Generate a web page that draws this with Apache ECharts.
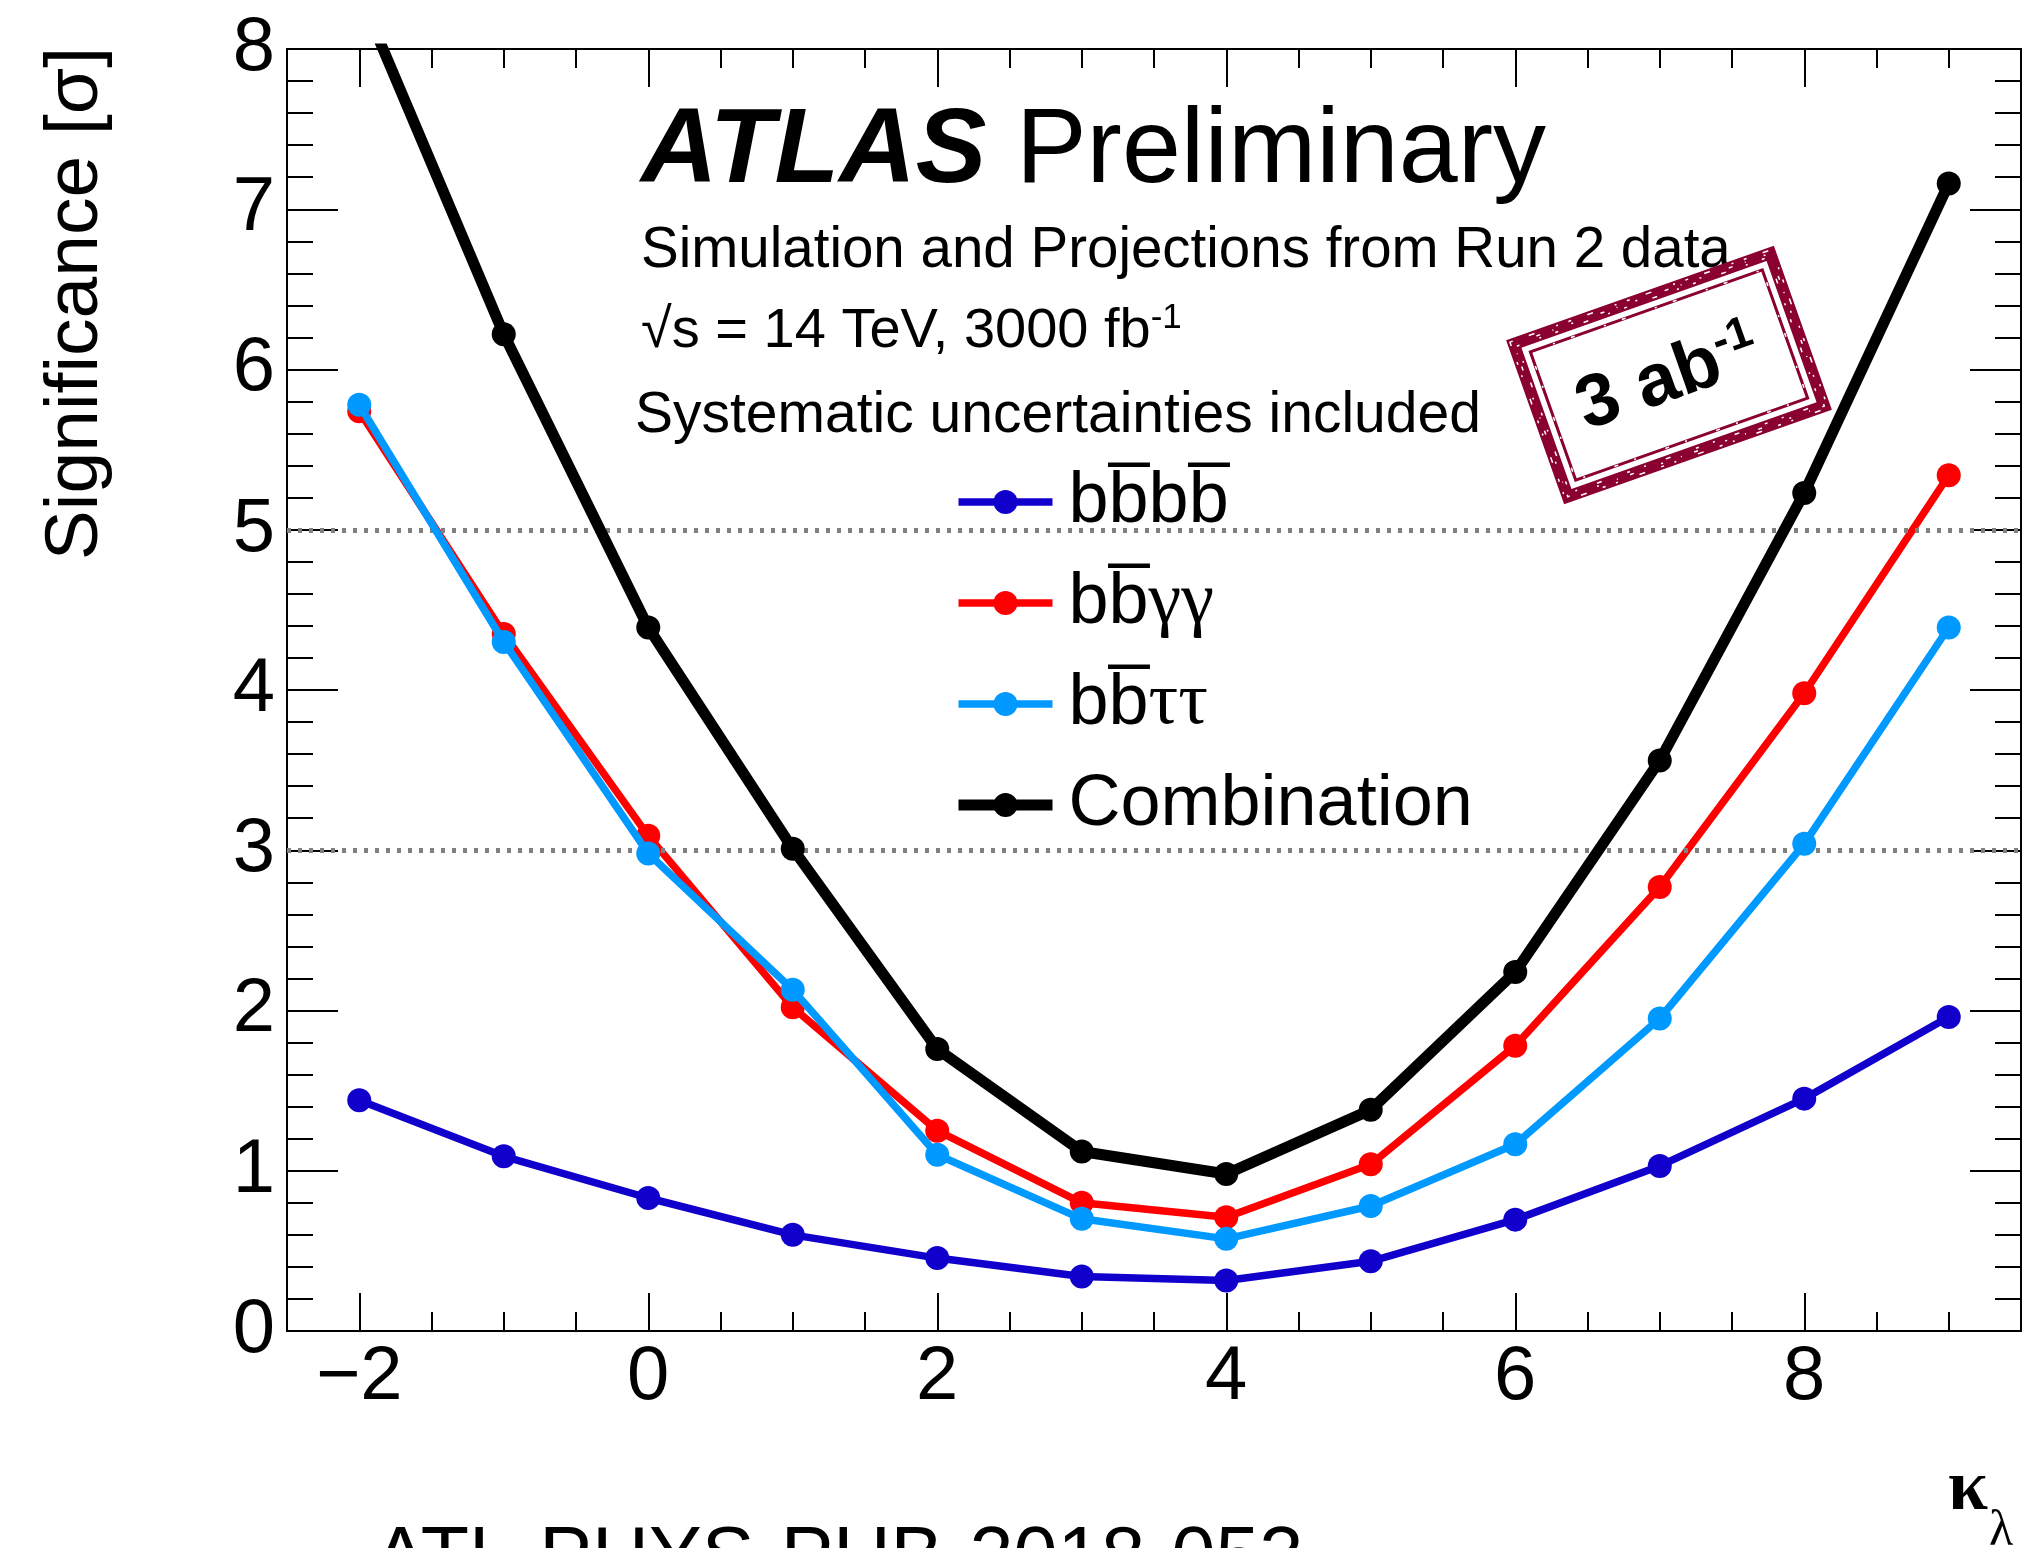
<!DOCTYPE html>
<html>
<head>
<meta charset="utf-8">
<script src="https://cdn.jsdelivr.net/npm/echarts@6/dist/echarts.min.js"></script>
<style>
  html, body { margin: 0; padding: 0; background: #ffffff; }
  #chart { width: 2023px; height: 1548px; }
</style>
</head>
<body>
<div id="chart"></div>
<script>
// kappa_lambda scan points
const kappa = [-2, -1, 0, 1, 2, 3, 4, 5, 6, 7, 8, 9];
// expected significance per channel
const sig4b   = [1.44, 1.09, 0.83, 0.60, 0.455, 0.34, 0.315, 0.435, 0.695, 1.03, 1.45, 1.96];
const sigBBYY = [5.74, 4.35, 3.09, 2.02, 1.25, 0.80, 0.71, 1.04, 1.78, 2.77, 3.98, 5.34];
const sigBBTT = [5.78, 4.30, 2.98, 2.13, 1.10, 0.70, 0.575, 0.78, 1.165, 1.95, 3.04, 4.39];
const sigComb = [8.35, 6.22, 4.39, 3.01, 1.76, 1.12, 0.98, 1.38, 2.24, 3.56, 5.23, 7.16];
// channel labels (with overbars on anti-b)
const channelNames = ['bb\u0305bb\u0305', 'bb\u0305\u03b3\u03b3', 'bb\u0305\u03c4\u03c4', 'Combination'];
// axis ticks
const xMajorTicks = [-2, 0, 2, 4, 6, 8];
const xMinorTicks = [-1.5, -1, -0.5, 0.5, 1, 1.5, 2.5, 3, 3.5, 4.5, 5, 5.5, 6.5, 7, 7.5, 8.5, 9];
// 3 sigma and 5 sigma reference levels
const refLevels = [3, 5];

const FONT = 'Liberation Sans, Arial, Helvetica, sans-serif';
const SERIF = 'Liberation Serif, Times New Roman, serif';
const colors = ['#1100cc', '#ff0000', '#0099ff', '#000000'];
const widths = [7.5, 7.5, 7.5, 11];
const values = [sig4b, sigBBYY, sigBBTT, sigComb];

const gridRect = { left: 287, top: 49, right: 2, bottom: 217 };
const axisLineStyle = { color: '#000', width: 2 };
const STAMP = '#8a0030';

const chart = echarts.init(document.getElementById('chart'), null, { renderer: 'canvas' });

const series = channelNames.map((name, i) => ({
  name: name,
  type: 'line',
  xAxisIndex: 0,
  yAxisIndex: 0,
  data: kappa.map((k, j) => [k, values[i][j]]),
  symbol: 'circle',
  symbolSize: 24,
  showSymbol: true,
  clip: true,
  lineStyle: { color: colors[i], width: widths[i] },
  itemStyle: { color: colors[i] },
  z: 3 + i
}));

// dotted reference lines, drawn above the curves
series.push({
  name: 'levels',
  type: 'line',
  xAxisIndex: 0,
  yAxisIndex: 0,
  data: [],
  z: 20,
  markLine: {
    silent: true,
    symbol: ['none', 'none'],
    label: { show: false },
    lineStyle: { color: '#808080', width: 5, type: [4, 7] },
    data: refLevels.map(v => ({ yAxis: v }))
  }
});

const fmtX = v => (v < 0 ? '\u2212' + Math.abs(v) : String(v));

// stamp frame size (outer stroke centre line)
const SW = 272, SH = 162;
// worn look for the stamp border: white speckle strokes over the frame
function wornStroke(inset, dash, width, offset) {
  return {
    type: 'rect',
    shape: { x: -SW / 2 - 6 + inset, y: -SH / 2 - 6 + inset, width: SW + 12 - 2 * inset, height: SH + 12 - 2 * inset },
    style: { fill: 'none', stroke: '#ffffff', lineWidth: width, lineDash: dash, lineDashOffset: offset }
  };
}

const option = {
  animation: false,
  backgroundColor: '#ffffff',
  grid: [
    Object.assign({}, gridRect),
    Object.assign({}, gridRect)
  ],
  xAxis: [
    {
      gridIndex: 0, type: 'value', position: 'bottom', min: -2.5, max: 9.5, interval: 0.5,
      axisLine: { show: true, onZero: false, lineStyle: axisLineStyle },
      axisTick: { show: true, inside: true, length: 38, customValues: xMajorTicks, lineStyle: axisLineStyle },
      axisLabel: { show: true, customValues: xMajorTicks, formatter: fmtX, margin: 9,
        fontFamily: FONT, fontSize: 76, lineHeight: 76, color: '#000' },
      splitLine: { show: false }
    },
    {
      gridIndex: 0, type: 'value', position: 'top', min: -2.5, max: 9.5, interval: 0.5,
      axisLine: { show: true, onZero: false, lineStyle: axisLineStyle },
      axisTick: { show: true, inside: true, length: 38, customValues: xMajorTicks, lineStyle: axisLineStyle },
      axisLabel: { show: false },
      splitLine: { show: false }
    },
    {
      gridIndex: 1, type: 'value', position: 'bottom', min: -2.5, max: 9.5, interval: 0.5,
      axisLine: { show: false, onZero: false },
      axisTick: { show: true, inside: true, length: 19, customValues: xMinorTicks, lineStyle: axisLineStyle },
      axisLabel: { show: false },
      splitLine: { show: false }
    },
    {
      gridIndex: 1, type: 'value', position: 'top', min: -2.5, max: 9.5, interval: 0.5,
      axisLine: { show: false, onZero: false },
      axisTick: { show: true, inside: true, length: 19, customValues: xMinorTicks, lineStyle: axisLineStyle },
      axisLabel: { show: false },
      splitLine: { show: false }
    }
  ],
  yAxis: [
    {
      gridIndex: 0, type: 'value', position: 'left', min: 0, max: 8, interval: 1,
      axisLine: { show: true, onZero: false, lineStyle: axisLineStyle },
      axisTick: { show: true, inside: true, length: 51, lineStyle: axisLineStyle },
      minorTick: { show: true, splitNumber: 5, length: 26, lineStyle: axisLineStyle },
      axisLabel: { show: true, margin: 12, fontFamily: FONT, fontSize: 76, color: '#000' },
      splitLine: { show: false }
    },
    {
      gridIndex: 0, type: 'value', position: 'right', min: 0, max: 8, interval: 1,
      axisLine: { show: true, onZero: false, lineStyle: axisLineStyle },
      axisTick: { show: true, inside: true, length: 51, lineStyle: axisLineStyle },
      minorTick: { show: true, splitNumber: 5, length: 26, lineStyle: axisLineStyle },
      axisLabel: { show: false },
      splitLine: { show: false }
    },
    {
      gridIndex: 1, type: 'value', min: 0, max: 8, show: false
    }
  ],
  legend: {
    orient: 'vertical',
    left: 948,
    top: 457,
    itemWidth: 94,
    itemHeight: 30,
    itemGap: 21,
    selectedMode: false,
    data: channelNames.map((n, i) => ({ name: n, lineStyle: { width: widths[i], color: colors[i] } })),
    formatter: n => n.replace(/([\u03b3\u03c4]+)/, '{g|$1}'),
    textStyle: {
      fontFamily: FONT, fontSize: 72, lineHeight: 80, color: '#000',
      padding: [0, 0, 0, 11],
      rich: { g: { fontFamily: SERIF, fontSize: 74, color: '#000' } }
    }
  },
  series: series,
  graphic: [
    {
      type: 'text', x: 76, y: 47, rotation: Math.PI / 2,
      style: { text: 'Significance [\u03c3]', fontFamily: FONT, fontSize: 75, fill: '#000',
        align: 'right', verticalAlign: 'middle' }
    },
    {
      type: 'text', x: 1988, y: 1490,
      style: { text: '\u03ba', fontFamily: SERIF, fontWeight: 'bold', fontSize: 72, fill: '#000',
        align: 'right', verticalAlign: 'middle' }
    },
    {
      type: 'text', x: 1989, y: 1532,
      style: { text: '\u03bb', fontFamily: SERIF, fontSize: 50, fill: '#000',
        align: 'left', verticalAlign: 'middle' }
    },
    {
      type: 'text', x: 641, y: 153,
      style: { text: '{a|ATLAS} Preliminary', fontFamily: FONT, fontSize: 106, fill: '#000',
        align: 'left', verticalAlign: 'middle',
        rich: { a: { fontFamily: FONT, fontSize: 106, fontWeight: 'bold', fontStyle: 'italic', fill: '#000' } } }
    },
    {
      type: 'text', x: 641, y: 251,
      style: { text: 'Simulation and Projections from Run 2 data', fontFamily: FONT, fontSize: 56.5, fill: '#000',
        align: 'left', verticalAlign: 'middle' }
    },
    {
      type: 'text', x: 641, y: 332,
      style: { text: '\u221as = 14 TeV, 3000 fb{s|-1}', fontFamily: FONT, fontSize: 56, lineHeight: 62, fill: '#000',
        align: 'left', verticalAlign: 'middle',
        rich: { s: { fontFamily: FONT, fontSize: 35, lineHeight: 35, verticalAlign: 'top', fill: '#000' } } }
    },
    {
      type: 'text', x: 635, y: 416,
      style: { text: 'Systematic uncertainties included', fontFamily: FONT, fontSize: 57, fill: '#000',
        align: 'left', verticalAlign: 'middle' }
    },
    {
      type: 'group', x: 1669, y: 375, rotation: 0.34, z: 50,
      children: [
        { type: 'rect', shape: { x: -SW / 2, y: -SH / 2, width: SW, height: SH },
          style: { fill: '#ffffff', stroke: STAMP, lineWidth: 12 } },
        { type: 'rect', shape: { x: -SW / 2 + 13, y: -SH / 2 + 13, width: SW - 26, height: SH - 26 },
          style: { fill: 'none', stroke: STAMP, lineWidth: 3 } },
        wornStroke(3, [3, 17, 6, 23, 2, 11], 1.5, 0),
        wornStroke(6, [2, 29, 4, 13, 1, 19], 1.5, 7),
        wornStroke(9, [5, 21, 2, 15, 3, 27], 1.5, 3),
        wornStroke(19, [4, 31, 2, 17], 1.5, 11),
        { type: 'text', x: -2, y: 4,
          style: { text: '3 ab{s|-1}', fontFamily: FONT, fontSize: 74, fontWeight: 'bold', lineHeight: 80, fill: '#000',
            align: 'center', verticalAlign: 'middle',
            rich: { s: { fontFamily: FONT, fontSize: 45, fontWeight: 'bold', lineHeight: 45, verticalAlign: 'top', fill: '#000' } } } }
      ]
    },
    {
      type: 'text', x: 374, y: 1560,
      style: { text: 'ATL-PHYS-PUB-2018-053', fontFamily: FONT, fontSize: 79, fill: '#000',
        align: 'left', verticalAlign: 'middle' }
    }
  ]
};

chart.setOption(option);
</script>
</body>
</html>
